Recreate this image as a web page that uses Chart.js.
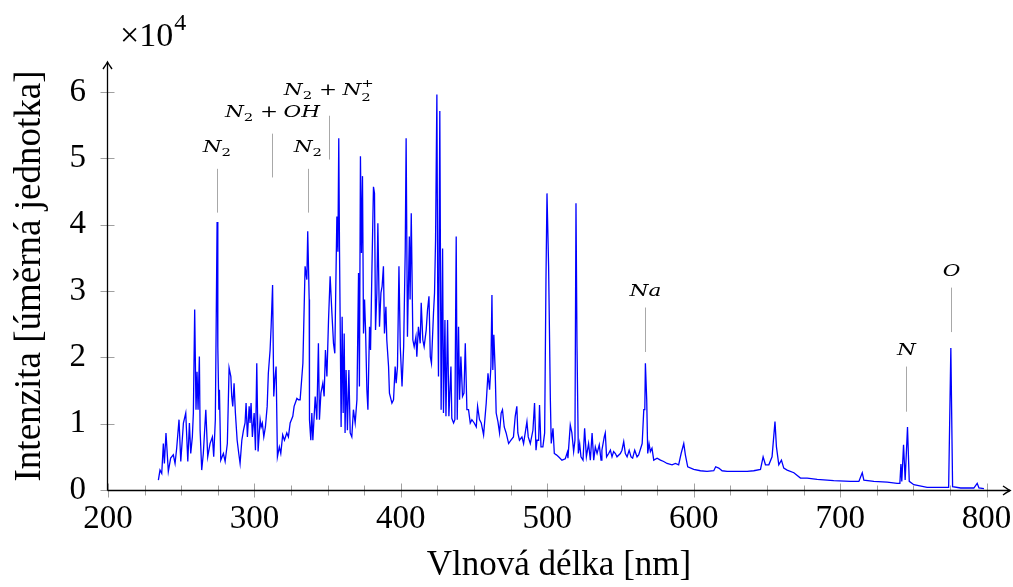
<!DOCTYPE html>
<html>
<head>
<meta charset="utf-8">
<script src="https://cdn.jsdelivr.net/npm/chart.js@4.4.1/dist/chart.umd.min.js"></script>
<style>
  html, body { margin: 0; padding: 0; background: #ffffff; }
</style>
</head>
<body>
<canvas id="spectrum" width="1013" height="587"></canvas>
<script>
// emission spectrum, wavelength in nm, intensity in units of 10^4
const wavelength = [
  234.4, 235.5, 236.7, 237.8, 238.5, 239.6, 241.2, 242.8, 244.6, 245.8,
  246.9, 248.5, 249.7, 251.5, 253.1, 254.5, 255.6, 256.5, 257.6, 258.3,
  259.2, 260.1, 260.8, 261.5, 262.4, 262.9, 264.0, 265.1, 266.8, 268.1,
  269.7, 271.3, 272.2, 273.3, 274.5, 275.0, 275.7, 276.1, 277.0, 278.8,
  280.0, 281.5, 282.7, 283.9, 284.5, 285.2, 286.1, 287.0, 288.2, 289.3,
  290.2, 291.4, 292.5, 293.6, 294.3, 295.2, 296.4, 297.0, 297.7, 298.6,
  299.8, 300.7, 301.6, 302.5, 303.9, 304.6, 305.4, 306.4, 307.5, 308.7,
  309.5, 310.7, 311.4, 312.4, 313.2, 313.9, 314.8, 315.7, 317.0, 318.0,
  319.3, 320.5, 322.1, 323.2, 324.4, 326.2, 327.1, 329.0, 330.1, 331.2,
  333.1, 334.6, 335.8, 336.4, 337.4, 337.6, 338.5, 339.2, 339.9, 341.5,
  342.6, 343.7, 344.4, 345.4, 346.7, 347.6, 348.5, 349.5, 350.6, 351.7,
  352.9, 354.0, 354.9, 356.3, 357.0, 357.6, 358.1, 358.5, 359.2, 359.9,
  360.6, 361.3, 361.9, 362.6, 363.5, 364.5, 365.4, 366.5, 367.6, 368.8,
  370.0, 371.1, 371.7, 372.4, 373.1, 373.8, 374.5, 375.2, 375.9, 376.8,
  377.5, 378.6, 379.3, 380.2, 381.3, 382.0, 382.7, 383.6, 384.3, 385.4,
  386.4, 387.2, 388.1, 388.8, 389.8, 390.4, 391.6, 392.2, 393.9, 395.0,
  396.1, 396.8, 397.7, 398.7, 399.6, 400.8, 401.9, 403.0, 403.6, 404.5,
  405.8, 406.3, 407.1, 408.2, 409.1, 410.3, 410.9, 412.0, 413.2, 413.9,
  415.0, 415.9, 417.3, 418.2, 419.2, 420.1, 420.9, 422.3, 423.0, 423.7,
  424.6, 425.2, 425.7, 426.6, 427.5, 428.5, 429.1, 430.1, 430.8, 431.9,
  432.8, 434.2, 434.8, 436.0, 436.9, 437.8, 438.5, 439.4, 440.1, 441.0,
  442.1, 443.1, 444.0, 445.1, 446.2, 447.4, 448.5, 450.1, 451.5, 452.4,
  453.7, 454.9, 456.5, 458.3, 459.5, 460.6, 461.5, 462.2, 462.8, 463.5,
  464.4, 465.1, 466.3, 467.4, 468.5, 469.4, 470.6, 471.9, 473.6, 475.2,
  476.9, 478.1, 479.2, 479.9, 481.0, 482.7, 483.8, 485.4, 486.1, 487.0,
  488.4, 490.2, 491.3, 492.3, 493.0, 494.1, 494.7, 495.7, 497.0, 498.2,
  499.1, 499.8, 500.9, 502.1, 502.7, 503.9, 504.8, 506.2, 507.7, 510.0,
  512.3, 513.7, 514.1, 515.7, 516.8, 518.0, 518.9, 519.6, 520.3, 521.2,
  522.1, 523.0, 524.4, 525.5, 526.7, 528.2, 529.4, 530.6, 531.7, 532.8,
  534.0, 535.5, 536.7, 537.3, 538.9, 539.6, 540.5, 541.9, 543.1, 544.2,
  545.3, 546.5, 547.6, 549.9, 551.0, 552.2, 553.3, 554.5, 555.9, 557.2,
  558.3, 559.7, 561.3, 562.4, 564.8, 565.9, 566.6, 567.0, 567.9, 568.6,
  569.5, 570.4, 571.5, 572.7, 575.0, 577.3, 579.5, 581.8, 585.2, 587.5,
  589.7, 591.4, 593.2, 594.3, 595.9, 600.0, 604.6, 609.1, 613.7, 615.0,
  617.1, 619.4, 622.8, 627.3, 631.9, 636.5, 641.0, 645.6, 647.4, 649.0,
  651.3, 653.5, 655.5, 656.5, 658.1, 659.9, 661.5, 663.8, 668.4, 672.9,
  677.5, 684.3, 695.6, 707.0, 712.8, 715.1, 716.2, 723.0, 732.1, 738.9,
  740.8, 741.5, 742.1, 743.3, 744.4, 746.0, 747.2, 750.3, 759.4, 768.6,
  774.1, 775.6, 776.8, 782.3, 791.3, 793.6, 794.8, 798.2
];
const intensity = [
  0.15, 0.30, 0.25, 0.70, 0.40, 0.86, 0.28, 0.48, 0.53, 0.40,
  0.63, 1.06, 0.43, 1.01, 1.16, 0.43, 1.01, 0.55, 0.80, 1.16,
  2.72, 1.21, 1.78, 1.21, 2.01, 0.90, 0.30, 0.55, 1.21, 0.50,
  0.70, 0.80, 0.50, 1.06, 4.04, 2.16, 1.21, 1.51, 0.45, 0.55,
  0.43, 0.70, 1.84, 1.71, 1.41, 1.26, 1.61, 1.16, 0.75, 0.55,
  0.40, 0.75, 0.90, 1.01, 1.31, 0.80, 1.26, 1.01, 1.31, 0.80,
  1.16, 0.60, 1.91, 0.58, 1.06, 0.95, 1.01, 0.80, 0.95, 1.26,
  1.76, 2.11, 2.46, 3.09, 1.41, 1.66, 1.86, 0.50, 0.65, 0.55,
  0.83, 0.75, 0.86, 0.80, 1.01, 1.11, 1.26, 1.38, 1.36, 1.36,
  1.91, 3.37, 3.17, 3.90, 2.87, 1.06, 0.75, 1.16, 0.75, 1.41,
  1.06, 2.21, 1.06, 1.46, 1.61, 1.41, 2.11, 1.71, 2.56, 3.22,
  2.67, 2.21, 2.06, 4.12, 3.59, 5.30, 3.62, 2.67, 0.95, 2.61,
  1.16, 2.36, 0.86, 1.81, 0.90, 1.81, 0.86, 0.80, 1.21, 1.01,
  1.36, 3.27, 1.56, 5.03, 3.57, 4.73, 2.36, 2.87, 2.41, 1.51,
  1.21, 2.46, 2.11, 3.27, 4.57, 4.47, 2.41, 2.97, 4.02, 2.46,
  2.97, 3.07, 3.37, 2.36, 2.76, 2.26, 1.86, 1.46, 1.31, 1.36,
  1.86, 1.61, 1.86, 3.37, 2.16, 1.56, 2.16, 3.62, 5.30, 2.31,
  3.82, 2.87, 4.17, 2.26, 2.16, 2.31, 2.01, 2.46, 2.21, 2.82,
  2.26, 2.16, 2.41, 2.71, 2.92, 2.01, 1.91, 2.67, 2.97, 3.77,
  5.96, 2.87, 1.71, 5.71, 1.21, 3.64, 1.16, 2.56, 1.11, 2.56,
  1.11, 1.86, 1.08, 1.01, 1.06, 3.82, 1.06, 2.46, 1.36, 2.01,
  1.41, 1.46, 2.21, 1.21, 1.21, 1.01, 1.06, 1.01, 0.95, 1.26,
  1.06, 1.01, 0.83, 1.31, 1.76, 1.51, 1.86, 2.94, 1.81, 2.34,
  1.81, 1.16, 1.03, 0.86, 1.16, 1.21, 0.95, 0.86, 0.70, 0.75,
  0.80, 1.11, 1.26, 0.86, 0.75, 0.80, 0.70, 0.93, 1.03, 0.80,
  0.70, 0.90, 1.31, 0.60, 0.75, 0.75, 1.28, 0.65, 0.65, 0.86,
  3.17, 4.47, 3.37, 1.36, 0.70, 0.93, 0.55, 0.53, 0.50, 0.45,
  0.47, 0.57, 0.48, 0.98, 0.86, 0.58, 0.75, 4.32, 2.16, 0.55,
  0.70, 0.50, 0.45, 0.93, 0.50, 0.70, 0.45, 0.86, 0.45, 0.65,
  0.55, 0.68, 0.45, 0.60, 0.80, 0.86, 0.50, 0.55, 0.60, 0.50,
  0.58, 0.55, 0.50, 0.55, 0.60, 0.73, 0.55, 0.50, 0.60, 0.50,
  0.48, 0.60, 0.50, 0.53, 0.70, 1.21, 1.21, 1.91, 1.36, 0.55,
  0.70, 0.58, 0.63, 0.45, 0.48, 0.45, 0.43, 0.40, 0.38, 0.40,
  0.38, 0.55, 0.70, 0.53, 0.35, 0.31, 0.29, 0.28, 0.29, 0.35,
  0.33, 0.29, 0.28, 0.28, 0.28, 0.28, 0.29, 0.31, 0.50, 0.38,
  0.38, 0.50, 1.03, 0.65, 0.38, 0.45, 0.33, 0.30, 0.26, 0.18,
  0.18, 0.16, 0.14, 0.13, 0.13, 0.26, 0.15, 0.13, 0.12, 0.10,
  0.10, 0.39, 0.13, 0.68, 0.15, 0.95, 0.13, 0.08, 0.04, 0.04,
  0.04, 2.14, 0.05, 0.03, 0.03, 0.10, 0.03, 0.02
];

const xTicks = [200, 300, 400, 500, 600, 700, 800];
const xMinorTicks = [225, 250, 275, 325, 350, 375, 425, 450, 475, 525, 550, 575,
  625, 650, 675, 725, 750, 775];
const yTicks = [0, 1, 2, 3, 4, 5, 6];

// line labels: wavelength of the marker, marker top/bottom (intensity units)
const lineLabels = [
  { x: 274.5, top: 4.84, bottom: 4.18, parts: [{ t: "N", k: "i" }, { sub: "2" }] },
  { x: 312.3, top: 5.37, bottom: 4.71, parts: [{ t: "N", k: "i" }, { sub: "2" }, { t: "+", k: "op" }, { t: "OH", k: "i" }] },
  { x: 336.4, top: 4.84, bottom: 4.18, parts: [{ t: "N", k: "i" }, { sub: "2" }] },
  { x: 351.2, top: 5.64, bottom: 4.98, parts: [{ t: "N", k: "i" }, { sub: "2" }, { t: "+", k: "op" }, { t: "N", k: "i" }, { sub: "2", sup: "+" }] },
  { x: 566.6, top: 2.75, bottom: 2.08, parts: [{ t: "Na", k: "i" }] },
  { x: 745.3, top: 1.86, bottom: 1.18, parts: [{ t: "N", k: "i" }] },
  { x: 775.4, top: 3.05, bottom: 2.38, parts: [{ t: "O", k: "i" }] }
];

const serif = '"Liberation Serif", "DejaVu Serif", serif';
const mathFont = '"DejaVu Serif", serif';

// small math-style label, centred on cx, baseline at base
function drawMath(ctx, parts, cx, base) {
  const big = 16, small = 11, stretch = 1.35, opGap = 4;
  const fontOf = (p) => p.sub !== undefined ? `${small}px ${mathFont}`
    : (p.k === "i" ? "italic " : "") + `${big}px ${mathFont}`;
  const items = parts.map((p) => {
    ctx.font = fontOf(p);
    let w;
    if (p.sub !== undefined) {
      w = Math.max(ctx.measureText(p.sub).width, p.sup ? ctx.measureText(p.sup).width : 0) + 1;
    } else {
      w = ctx.measureText(p.t).width + (p.k === "op" ? 2 * opGap : 0);
    }
    return { p, w };
  });
  const total = items.reduce((s, it) => s + it.w, 0);
  ctx.save();
  ctx.translate(cx, base);
  ctx.scale(stretch, 1);
  let x = -total / 2;
  ctx.fillStyle = "#000";
  ctx.textAlign = "left";
  ctx.textBaseline = "alphabetic";
  items.forEach(({ p, w }) => {
    ctx.font = fontOf(p);
    if (p.sub !== undefined) {
      ctx.fillText(p.sub, x, p.sup ? 6 : 4);
      if (p.sup) ctx.fillText(p.sup, x, -8);
    } else {
      ctx.fillText(p.t, x + (p.k === "op" ? opGap : 0), 0);
    }
    x += w;
  });
  ctx.restore();
}

function arrowHead(ctx, x, y, dir) {
  // small curved "to" tip; dir = "up" or "right"
  ctx.save();
  ctx.translate(x, y);
  if (dir === "up") ctx.rotate(-Math.PI / 2);
  ctx.beginPath();
  ctx.moveTo(-7, -4.5);
  ctx.quadraticCurveTo(-2, -1, 0, 0);
  ctx.quadraticCurveTo(-2, 1, -7, 4.5);
  ctx.lineWidth = 1.4;
  ctx.strokeStyle = "#000";
  ctx.stroke();
  ctx.restore();
}

const axesPlugin = {
  id: "axesPlugin",
  afterDatasetsDraw(chart) {
    const ctx = chart.ctx;
    const xs = chart.scales.x, ys = chart.scales.y;
    const ax = xs.left - 0.5, ay = Math.round(ys.getPixelForValue(0)) + 0.5;
    ctx.save();

    // tick marks crossing the axes
    ctx.strokeStyle = "#a0a0a0";
    ctx.lineWidth = 1;
    xTicks.forEach((v) => {
      const px = Math.round(xs.getPixelForValue(v)) + 0.5;
      ctx.beginPath(); ctx.moveTo(px, ay - 7); ctx.lineTo(px, ay + 7); ctx.stroke();
    });
    xMinorTicks.forEach((v) => {
      const px = Math.round(xs.getPixelForValue(v)) + 0.5;
      ctx.beginPath(); ctx.moveTo(px, ay - 5); ctx.lineTo(px, ay + 5); ctx.stroke();
    });
    yTicks.forEach((v) => {
      const py = Math.round(ys.getPixelForValue(v)) + 0.5;
      ctx.beginPath(); ctx.moveTo(ax - 7, py); ctx.lineTo(ax + 7, py); ctx.stroke();
    });

    // axis lines with arrows
    ctx.strokeStyle = "#000";
    ctx.lineWidth = 1.3;
    ctx.beginPath();
    ctx.moveTo(ax, ay); ctx.lineTo(xs.right, ay);
    ctx.moveTo(ax, ay); ctx.lineTo(ax, ys.top);
    ctx.stroke();
    arrowHead(ctx, xs.right, ay, "right");
    arrowHead(ctx, ax, ys.top, "up");

    // multiplier above the y axis
    ctx.fillStyle = "#000";
    ctx.textBaseline = "alphabetic";
    ctx.textAlign = "left";
    ctx.font = `34px ${serif}`;
    ctx.fillText("\u00d710", 120, 46);
    const w = ctx.measureText("\u00d710").width;
    ctx.font = `24px ${serif}`;
    ctx.fillText("4", 120 + w + 1, 30);

    // spectral line markers
    lineLabels.forEach((a) => {
      const px = Math.round(xs.getPixelForValue(a.x)) + 0.5;
      const top = ys.getPixelForValue(a.top);
      const bottom = ys.getPixelForValue(a.bottom);
      ctx.strokeStyle = "#a8a8a8";
      ctx.lineWidth = 1;
      ctx.beginPath(); ctx.moveTo(px, top); ctx.lineTo(px, bottom); ctx.stroke();
      const hasSub = a.parts.some((p) => p.sub !== undefined);
      const hasSup = a.parts.some((p) => p.sup !== undefined);
      const gap = hasSup ? 21 : hasSub ? 17 : 12;
      drawMath(ctx, a.parts, px, top - gap);
    });
    ctx.restore();
  }
};

new Chart(document.getElementById("spectrum"), {
  type: "line",
  data: {
    datasets: [{
      data: wavelength.map((x, i) => ({ x: x, y: intensity[i] })),
      borderColor: "#0000ff",
      borderWidth: 1.3,
      pointRadius: 0,
      tension: 0,
      fill: false
    }]
  },
  options: {
    responsive: false,
    animation: false,
    events: [],
    layout: { padding: { top: 62, right: 3, left: 0, bottom: 0 } },
    plugins: {
      legend: { display: false },
      tooltip: { enabled: false }
    },
    scales: {
      x: {
        type: "linear",
        min: 200,
        max: 816,
        grid: { display: false, drawTicks: false },
        border: { display: false },
        afterBuildTicks: (scale) => { scale.ticks = xTicks.map((v) => ({ value: v })); },
        afterFit: (scale) => {
          scale.height = 97;
          scale.paddingLeft = 0;
          scale.paddingRight = 0;
        },
        ticks: {
          padding: 10,
          maxRotation: 0,
          color: "#000",
          font: { family: serif, size: 33 }
        },
        title: {
          display: true,
          text: "Vlnová délka [nm]",
          color: "#000",
          font: { family: serif, size: 35 },
          padding: { top: 0, bottom: 0 }
        }
      },
      y: {
        type: "linear",
        min: 0,
        max: 6.45,
        grid: { display: false, drawTicks: false },
        border: { display: false },
        afterBuildTicks: (scale) => { scale.ticks = yTicks.map((v) => ({ value: v })); },
        afterFit: (scale) => {
          scale.width = 108;
          scale.paddingTop = 0;
          scale.paddingBottom = 0;
        },
        ticks: {
          padding: 22,
          color: "#000",
          font: { family: serif, size: 33 }
        },
        title: {
          display: true,
          text: "Intenzita [úměrná jednotka]",
          color: "#000",
          font: { family: serif, size: 37 },
          padding: { top: 8, bottom: 0 }
        }
      }
    }
  },
  plugins: [axesPlugin]
});
</script>
</body>
</html>
